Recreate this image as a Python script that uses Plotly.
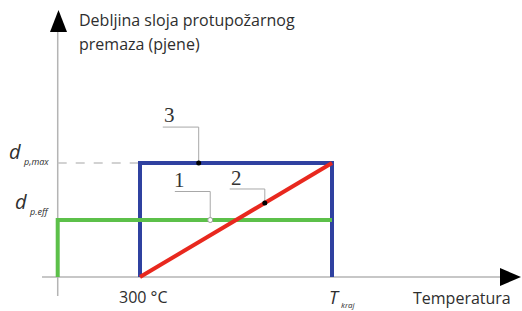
import plotly.graph_objects as go

# ---- data (abstract units) ----
T_points = [0, 300, 1000]          # origin, 300 °C, T_kraj
d_levels = [0, 1, 2]               # 0, d_p,eff, d_p,max

green_x = [T_points[0], T_points[0], T_points[2]]
green_y = [d_levels[0], d_levels[1], d_levels[1]]
blue_x = [T_points[1], T_points[1], T_points[2], T_points[2]]
blue_y = [d_levels[0], d_levels[2], d_levels[2], d_levels[0]]
red_x = [T_points[1], T_points[2]]
red_y = [d_levels[0], d_levels[2]]
dash_x = [T_points[0], T_points[1]]
dash_y = [d_levels[2], d_levels[2]]

# callouts: label, label pos, leader start x, leader y, end x, end y
callouts = [
    ("3", 408, 2.84, 383, 2.63, 514, 2.0),
    ("1", 445, 1.70, 427, 1.50, 556, 1.0),
    ("2", 653, 1.74, 627, 1.544, 755, 1.3),
]

W, H = 522, 311
kx = 192 / 700.0           # px per x unit
x0px = 140 - 300 * kx
ky = 57.0                  # px per y unit
y0px = 277.0

def X(px):
    return (px - x0px) / kx

def Y(py):
    return (y0px - py) / ky

fig = go.Figure()

axis_col = "#b4b4b4"
# axis lines
fig.add_shape(type="line", x0=X(42), x1=X(503), y0=0, y1=0,
              line=dict(color=axis_col, width=1.5), layer="below")
fig.add_shape(type="line", x0=0, x1=0, y0=Y(296), y1=Y(28),
              line=dict(color=axis_col, width=1.5), layer="below")
# arrowheads
fig.add_shape(type="path",
              path=f"M {X(58.5-8.5)},{Y(32)} L {X(58.5)},{Y(10)} L {X(58.5+8.5)},{Y(32)} Z",
              fillcolor="black", line=dict(color="black", width=0))
fig.add_shape(type="path",
              path=f"M {X(500)},{Y(277-9)} L {X(521)},{Y(277)} L {X(500)},{Y(277+9)} Z",
              fillcolor="black", line=dict(color="black", width=0))

# dashed gray line
fig.add_trace(go.Scatter(x=dash_x, y=dash_y, mode="lines",
                         line=dict(color="#c4c4c4", width=1.5, dash="dash")))
# leader lines
for lab, lx, ly, sx, sy, ex, ey in callouts:
    fig.add_trace(go.Scatter(x=[sx, ex, ex], y=[sy, sy, ey], mode="lines",
                             line=dict(color="#a8a8a8", width=1)))

fig.add_trace(go.Scatter(x=blue_x, y=blue_y, mode="lines",
                         line=dict(color="#2f41a0", width=4)))
fig.add_trace(go.Scatter(x=green_x, y=green_y, mode="lines",
                         line=dict(color="#5cc04a", width=4)))
fig.add_trace(go.Scatter(x=red_x, y=red_y, mode="lines",
                         line=dict(color="#e8281e", width=4)))

# leader end markers
fig.add_trace(go.Scatter(x=[callouts[0][5], callouts[2][5]], y=[callouts[0][6], callouts[2][6]],
                         mode="markers", marker=dict(color="black", size=5)))
fig.add_trace(go.Scatter(x=[callouts[1][5]], y=[callouts[1][6]], mode="markers",
                         marker=dict(color="white", size=5, line=dict(color="#999", width=1))))

txt = "#2e2e2e"
sans = "Open Sans"
ann = []
for lab, lx, ly, sx, sy, ex, ey in callouts:
    ann.append(dict(x=lx, y=ly, text=lab, showarrow=False,
                    font=dict(family="Liberation Serif", size=21, color="#333")))

ann += [
    dict(x=X(77), y=Y(20), text="Debljina sloja protupožarnog", xanchor="left",
         showarrow=False, font=dict(family=sans, size=16, color=txt)),
    dict(x=X(77), y=Y(44), text="premaza (pjene)", xanchor="left",
         showarrow=False, font=dict(family=sans, size=16, color=txt)),
    dict(x=X(411), y=Y(298), text="Temperatura", xanchor="left",
         showarrow=False, font=dict(family=sans, size=16, color=txt)),
    dict(x=X(143), y=Y(297), text="300 °C", showarrow=False,
         font=dict(family=sans, size=16, color=txt)),
    dict(x=X(334), y=Y(297), text="<i>T</i>", showarrow=False,
         font=dict(family=sans, size=18, color=txt)),
    dict(x=X(339), y=Y(304), text="<i>kraj</i>", xanchor="left", showarrow=False,
         font=dict(family=sans, size=8, color=txt)),
    dict(x=X(15), y=Y(151), text="<i>d</i>", showarrow=False,
         font=dict(family=sans, size=20, color=txt)),
    dict(x=X(21), y=Y(161), text="<i>p,max</i>", xanchor="left", showarrow=False,
         font=dict(family=sans, size=9, color=txt)),
    dict(x=X(21), y=Y(201), text="<i>d</i>", showarrow=False,
         font=dict(family=sans, size=20, color=txt)),
    dict(x=X(27), y=Y(211), text="<i>p.eff</i>", xanchor="left", showarrow=False,
         font=dict(family=sans, size=9, color=txt)),
]

fig.update_layout(
    width=W, height=H, margin=dict(l=0, r=0, t=0, b=0),
    paper_bgcolor="white", plot_bgcolor="white", showlegend=False,
    xaxis=dict(range=[X(0), X(W)], visible=False, fixedrange=True),
    yaxis=dict(range=[Y(H), Y(0)], visible=False, fixedrange=True),
    annotations=ann,
)

fig.write_html("out.html", config={"displayModeBar": False},
               post_script="document.body.style.margin='0';document.body.style.overflow='hidden';")
